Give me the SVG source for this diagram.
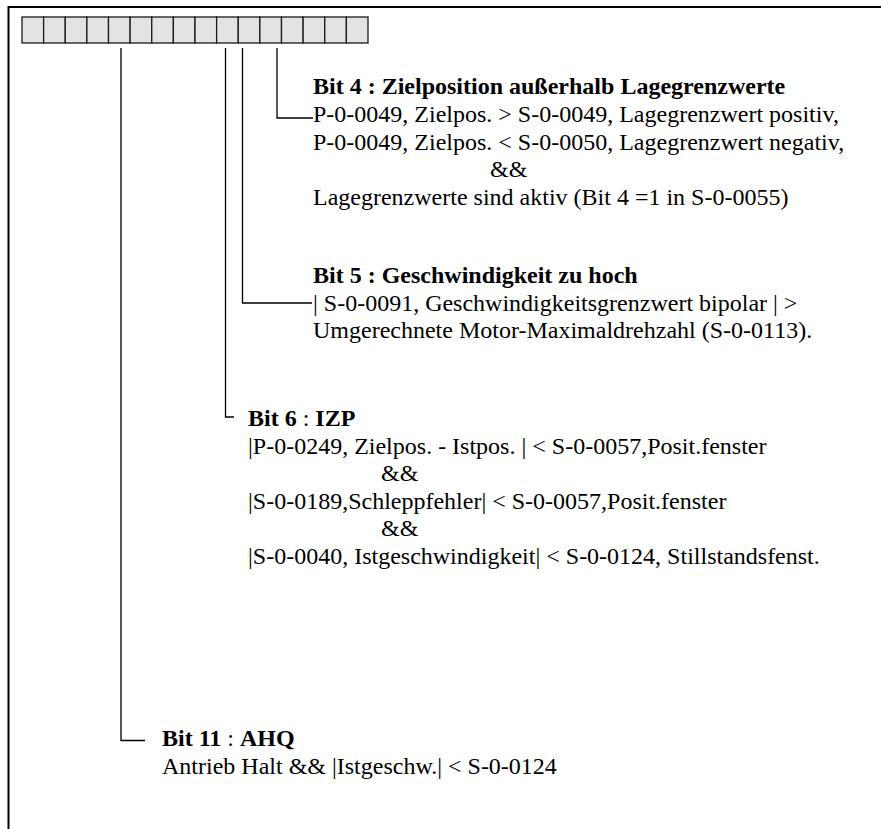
<svg xmlns="http://www.w3.org/2000/svg" width="881" height="829" viewBox="0 0 881 829">
<style>
.frame{stroke:#000;stroke-width:2;fill:none}
.cell{fill:#e3e3e3;stroke:#1a1a1a;stroke-width:1.3}
.conn{stroke:#000;stroke-width:1.3;fill:none}
text{font-family:"Liberation Serif","Times New Roman",serif;font-size:24px;fill:#000}
.b{font-weight:bold}
</style>
<rect width="881" height="829" fill="#fff"/>
<path class="frame" d="M8.5,829 V7 H881"/>
<g id="register">
<rect class="cell" x="22" y="17" width="21.625" height="26"/>
<rect class="cell" x="43.625" y="17" width="21.625" height="26"/>
<rect class="cell" x="65.25" y="17" width="21.625" height="26"/>
<rect class="cell" x="86.875" y="17" width="21.625" height="26"/>
<rect class="cell" x="108.5" y="17" width="21.625" height="26"/>
<rect class="cell" x="130.125" y="17" width="21.625" height="26"/>
<rect class="cell" x="151.75" y="17" width="21.625" height="26"/>
<rect class="cell" x="173.375" y="17" width="21.625" height="26"/>
<rect class="cell" x="195" y="17" width="21.625" height="26"/>
<rect class="cell" x="216.625" y="17" width="21.625" height="26"/>
<rect class="cell" x="238.25" y="17" width="21.625" height="26"/>
<rect class="cell" x="259.875" y="17" width="21.625" height="26"/>
<rect class="cell" x="281.5" y="17" width="21.625" height="26"/>
<rect class="cell" x="303.125" y="17" width="21.625" height="26"/>
<rect class="cell" x="324.75" y="17" width="21.625" height="26"/>
<rect class="cell" x="346.375" y="17" width="21.625" height="26"/>
</g>
<g id="connectors">
<path class="conn" d="M277,48 V118 H313"/>
<path class="conn" d="M242.5,48 V303 H312"/>
<path class="conn" d="M225.5,48 V417 H234"/>
<path class="conn" d="M121,48 V740.5 H145"/>
</g>
<g id="bit4">
<text class="b" x="313" y="94">Bit 4 : Zielposition außerhalb Lagegrenzwerte</text>
<text x="313" y="122">P-0-0049, Zielpos. &gt; S-0-0049, Lagegrenzwert positiv,</text>
<text x="313" y="149.5">P-0-0049, Zielpos. &lt; S-0-0050, Lagegrenzwert negativ,</text>
<text x="490" y="177">&amp;&amp;</text>
<text x="313" y="204.5">Lagegrenzwerte sind aktiv (Bit 4 =1 in S-0-0055)</text>
</g>
<g id="bit5">
<text class="b" x="313" y="283">Bit 5 : Geschwindigkeit zu hoch</text>
<text x="313" y="310.5">| S-0-0091, Geschwindigkeitsgrenzwert bipolar | &gt;</text>
<text x="313" y="338">Umgerechnete Motor-Maximaldrehzahl (S-0-0113).</text>
</g>
<g id="bit6">
<text x="248" y="426"><tspan class="b">Bit 6</tspan> : <tspan class="b">IZP</tspan></text>
<text x="248" y="453.5">|P-0-0249, Zielpos. - Istpos. | &lt; S-0-0057,Posit.fenster</text>
<text x="381" y="481">&amp;&amp;</text>
<text x="248" y="508.5">|S-0-0189,Schleppfehler| &lt; S-0-0057,Posit.fenster</text>
<text x="381" y="536">&amp;&amp;</text>
<text x="248" y="563.5">|S-0-0040, Istgeschwindigkeit| &lt; S-0-0124, Stillstandsfenst.</text>
</g>
<g id="bit11">
<text x="162" y="746"><tspan class="b">Bit 11</tspan> : <tspan class="b">AHQ</tspan></text>
<text x="162" y="773.5">Antrieb Halt &amp;&amp; |Istgeschw.| &lt; S-0-0124</text>
</g>
</svg>
